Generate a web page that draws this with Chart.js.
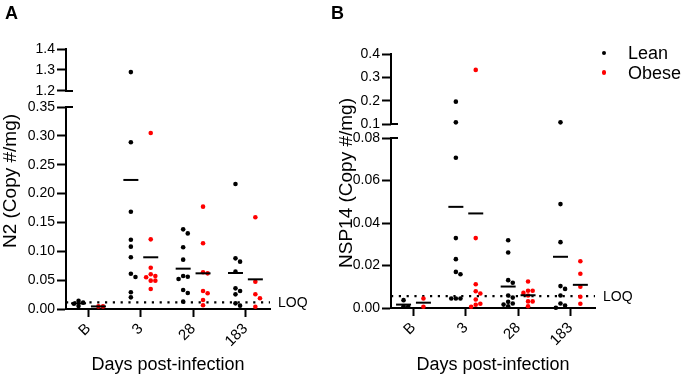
<!DOCTYPE html>
<html><head><meta charset="utf-8">
<script src="https://cdn.jsdelivr.net/npm/chart.js@4.4.1/dist/chart.umd.min.js"></script>
<style>
html,body{margin:0;padding:0;background:#fff;}
#wrap{position:relative;width:682px;height:376px;overflow:hidden;font-family:"Liberation Sans",Arial,sans-serif;color:#000;}
canvas{position:absolute;top:0;}
#cA{left:0}
#cB{left:330px}
.lbl{position:absolute;font-weight:bold;font-size:18px;line-height:18px;}
.leg{position:absolute;left:600px;top:44px;font-size:18px;line-height:19.5px;}
.leg div{position:relative;padding-left:28px;height:19.5px;}
.leg span{position:absolute;left:1.7px;top:6.7px;width:4.6px;height:4.6px;border-radius:50%;}
</style></head>
<body><div id="wrap">
<canvas id="cA" width="340" height="376"></canvas>
<canvas id="cB" width="352" height="376"></canvas>
<div class="lbl" style="left:5px;top:4px">A</div>
<div class="lbl" style="left:331px;top:4px">B</div>
<div class="leg"><div><span style="background:#000"></span>Lean</div><div><span style="background:#f00"></span>Obese</div></div>
</div>
<script>
// ---------- data ----------
const categories = ['B', '3', '28', '183'];

// Panel A: N2 (Copy #/mg)
const n2Lean = [
  [0.014, 0.011, 0.005, 0.009],
  [1.29, 0.289, 0.1686, 0.1201, 0.108, 0.0896, 0.0612, 0.0555, 0.0289, 0.0202],
  [0.138, 0.131, 0.1069, 0.0855, 0.0572, 0.056, 0.052, 0.0329, 0.0277, 0.0127],
  [0.2166, 0.0878, 0.082, 0.0647, 0.0358, 0.0312, 0.0254, 0.0098, 0.0058]
];
const n2Obese = [
  [0.0045, 0.0045],
  [0.305, 0.1207, 0.0716, 0.0601, 0.0572, 0.0549, 0.0491, 0.0491, 0.0347],
  [0.1773, 0.1138, 0.0636, 0.0618, 0.0312, 0.0272, 0.0156, 0.0064],
  [0.1589, 0.0474, 0.0255, 0.0185, 0.004]
];
const n2LeanMean = [0.0098, 0.2236, 0.0699, 0.0624];
const n2ObeseMean = [0.0045, 0.0896, 0.0618, 0.0514];
const n2Loq = 0.0115;
const n2TicksLow = [0, 0.05, 0.10, 0.15, 0.20, 0.25, 0.30, 0.35];
const n2TicksHigh = [1.2, 1.3, 1.4];

// Panel B: NSP14 (Copy #/mg)
const nspLean = [
  [0.0037, 0.0008, 0.0006],
  [0.1957, 0.107, 0.0707, 0.0329, 0.023, 0.017, 0.0159, 0.0045, 0.0045, 0.0045],
  [0.0319, 0.0261, 0.0131, 0.0119, 0.0059, 0.0049, 0.0029, 0.0021, 0.0016, 0.0008],
  [0.107, 0.0489, 0.031, 0.0103, 0.009, 0.0059, 0.0021, 0.0012, 0.0001]
];
const nspObese = [
  [0.0045, 0.0006],
  [0.3318, 0.0329, 0.0112, 0.0079, 0.0068, 0.004, 0.002, 0.0015, 0.0006],
  [0.0125, 0.0081, 0.0081, 0.0071, 0.0059, 0.0031, 0.0031, 0.0008],
  [0.022, 0.0161, 0.01, 0.0053, 0.002]
];
const nspLeanMean = [0.0016, 0.0476, 0.0101, 0.0241];
const nspObeseMean = [0.0025, 0.0445, 0.006, 0.0109];
const nspLoq = 0.0056;
const nspTicksLow = [0, 0.02, 0.04, 0.06, 0.08];
const nspTicksHigh = [0.1, 0.2, 0.3, 0.4];

// ---------- drawing ----------
Chart.defaults.color = '#000';
Chart.defaults.font.family = '"Liberation Sans", Arial, sans-serif';

const FONT = '"Liberation Sans", Arial, sans-serif';
const X_MIN = -0.43, X_MAX = 3.47, OFF = 0.19;

const deco = {
  id: 'deco',
  afterDraw(chart, _a, o) {
    const {ctx, chartArea: ca, scales} = chart;
    const lo = scales.yLow, hi = scales.yHigh;
    const x0 = lo.right;
    ctx.save();
    ctx.strokeStyle = '#000'; ctx.lineWidth = 2;
    const yT = hi.getPixelForValue(hi.max);
    const yB = hi.getPixelForValue(o.hiBreak);
    const yL = lo.getPixelForValue(lo.max);
    ctx.beginPath();
    ctx.moveTo(x0, yT - 1); ctx.lineTo(x0, yB + 1);
    ctx.moveTo(x0 - 1, yB); ctx.lineTo(x0 + 7, yB);
    ctx.moveTo(x0 - 1, yL); ctx.lineTo(x0 + 7, yL);
    ctx.stroke();
    ctx.restore();

    ctx.save();
    ctx.fillStyle = '#000';
    ctx.font = '19px ' + FONT;
    ctx.translate(o.titleX, (ca.top + ca.bottom) / 2 + 2);
    ctx.rotate(-Math.PI / 2);
    ctx.textAlign = 'center'; ctx.textBaseline = 'middle';
    ctx.fillText(o.title, 0, 0);
    ctx.restore();

    ctx.save();
    ctx.fillStyle = '#000';
    ctx.font = '14px ' + FONT;
    ctx.textAlign = 'left'; ctx.textBaseline = 'middle';
    ctx.fillText('LOQ', ca.right + 8, lo.getPixelForValue(o.loq) + 1);
    ctx.restore();
  }
};

function spread(chart) {
  const xs = chart.scales.x;
  const ppu = xs.getPixelForValue(1) - xs.getPixelForValue(0);
  const D = 4.6;
  chart.data.datasets.forEach(ds => {
    if (!ds.spread) return;
    const ys = chart.scales[ds.yAxisID];
    const groups = new Map();
    ds.data.forEach(p => { if (!groups.has(p.base)) groups.set(p.base, []); groups.get(p.base).push(p); });
    groups.forEach(list => {
      const placed = [];
      list.forEach(p => {
        const py = ys.getPixelForValue(p.y);
        for (let k = 0; k < 20; k++) {
          const slot = k === 0 ? 0 : (k % 2 ? 1 : -1) * Math.ceil(k / 2);
          const px = slot * D;
          if (placed.every(q => (q.px - px) ** 2 + (q.py - py) ** 2 >= (D - 0.3) ** 2)) {
            placed.push({px, py});
            p.x = p.base + px / ppu;
            break;
          }
        }
      });
    });
  });
  chart.update('none');
}

function makePanel(id, c) {
  const lowMax = c.ticksLow[c.ticksLow.length - 1];
  const pts = (groups, side, high) => groups.flatMap((vals, i) =>
    vals.filter(v => high ? v > lowMax : v <= lowMax)
        .map(v => ({x: i + side * OFF, y: v, base: i + side * OFF})));
  const means = (arr, side) => arr.map((m, i) => ({x: i + side * OFF, y: m}));
  const dot = (data, color, axis) => ({
    data, yAxisID: axis, backgroundColor: color, borderColor: color, borderWidth: 0,
    pointRadius: 2.3, pointHoverRadius: 2.3, showLine: false, order: 1, spread: true, clip: false
  });
  const meanDs = (data) => ({
    data, yAxisID: 'yLow', pointStyle: 'line', pointRadius: 7.5, pointHoverRadius: 7.5,
    borderColor: '#000', backgroundColor: '#000', borderWidth: 2, pointBorderWidth: 2, showLine: false, order: 0, clip: false
  });
  const datasets = [
    meanDs(means(c.leanMean, -1)),
    meanDs(means(c.obeseMean, 1)),
    dot(pts(c.lean, -1, false), '#000', 'yLow'),
    dot(pts(c.lean, -1, true), '#000', 'yHigh'),
    dot(pts(c.obese, 1, false), '#ff0000', 'yLow'),
    dot(pts(c.obese, 1, true), '#ff0000', 'yHigh'),
    {
      data: [{x: X_MIN, y: c.loq}, {x: X_MAX, y: c.loq}], yAxisID: 'yLow', showLine: true,
      borderColor: '#000', borderWidth: 2.2, borderDash: [2.2, 5.6], pointRadius: 0, order: 2, clip: false
    }
  ];
  const grid = (len) => ({drawOnChartArea: false, drawTicks: true, tickLength: len, tickWidth: 2, tickColor: '#000'});
  const chart = new Chart(document.getElementById(id), {
    type: 'scatter',
    data: {datasets},
    options: {
      responsive: false, animation: false, events: [],
      layout: {padding: c.pad},
      plugins: {legend: {display: false}, tooltip: {enabled: false}, deco: {title: c.title, titleX: c.titleX, loq: c.loq, hiBreak: c.ticksHigh[0]}},
      scales: {
        x: {
          type: 'linear', position: 'bottom', min: X_MIN, max: X_MAX,
          afterBuildTicks: s => { s.ticks = categories.map((_, i) => ({value: i})); },
          ticks: {callback: v => categories[v], minRotation: 45, maxRotation: 45, autoSkip: false, font: {size: 15}, padding: 3},
          grid: grid(8), border: {display: true, color: '#000', width: 2},
          title: {display: true, text: 'Days post-infection', font: {size: 18}, padding: {top: 0, bottom: 0}},
          afterFit: s => { s.height = c.xH; }
        },
        yHigh: {
          type: 'linear', position: 'left', stack: 'v', stackWeight: c.wHigh, weight: 1,
          min: c.hiMin, max: c.ticksHigh[c.ticksHigh.length - 1], bounds: 'data',
          afterBuildTicks: s => { s.ticks = c.ticksHigh.map(v => ({value: v})); },
          ticks: {callback: v => v.toFixed(1), font: {size: 14}, padding: 2, autoSkip: false},
          grid: grid(9), border: {display: false},
          afterFit: s => { s.width = c.yW; }
        },
        yLow: {
          type: 'linear', position: 'left', stack: 'v', stackWeight: c.wLow, weight: 0,
          min: 0, max: lowMax, bounds: 'data',
          afterBuildTicks: s => { s.ticks = c.ticksLow.map(v => ({value: v})); },
          ticks: {callback: v => v.toFixed(2), font: {size: 14}, padding: 2, autoSkip: false},
          grid: grid(9), border: {display: true, color: '#000', width: 2},
          afterFit: s => { s.width = c.yW; }
        }
      }
    },
    plugins: [deco]
  });
  spread(chart);
  return chart;
}

makePanel('cA', {
  lean: n2Lean, obese: n2Obese, leanMean: n2LeanMean, obeseMean: n2ObeseMean, loq: n2Loq,
  ticksLow: n2TicksLow, ticksHigh: n2TicksHigh, hiMin: 1.1238, wHigh: 58, wLow: 202,
  pad: {left: 0, top: 49, right: 70, bottom: 0}, yW: 66, xH: 67,
  title: 'N2 (Copy #/mg)', titleX: 11
});
makePanel('cB', {
  lean: nspLean, obese: nspObese, leanMean: nspLeanMean, obeseMean: nspObeseMean, loq: nspLoq,
  ticksLow: nspTicksLow, ticksHigh: nspTicksHigh, hiMin: 0.04, wHigh: 84, wLow: 170,
  pad: {left: 0, top: 54, right: 87, bottom: 0}, yW: 61, xH: 68,
  title: 'NSP14 (Copy #/mg)', titleX: 17
});
</script>
</body></html>
